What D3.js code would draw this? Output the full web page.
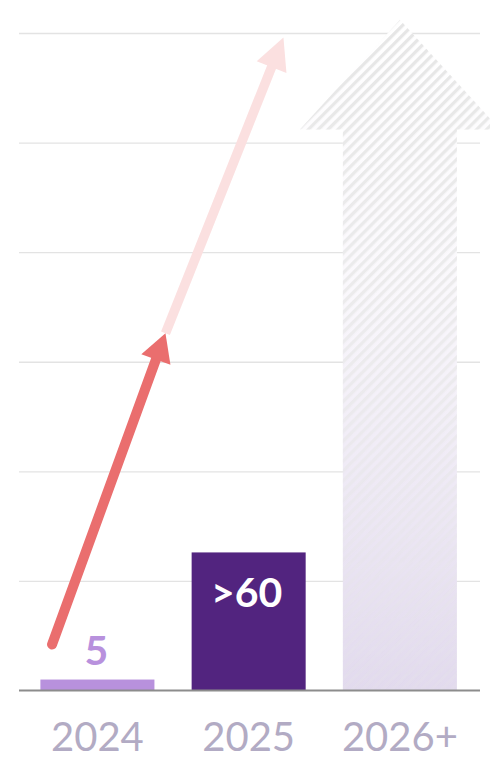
<!DOCTYPE html>
<html><head><meta charset="utf-8">
<script src="https://cdn.jsdelivr.net/npm/d3@7"></script>
<style>html,body{margin:0;padding:0;background:#fff;} svg{display:block;}</style>
</head><body><svg id="c" width="490" height="761"></svg>
<script>
// ---- data ----
const categories = ["2024", "2025", "2026+"];
const barValues = [5, 63];
const barLabels = ["5", ">60"];
const futureHeadBase = 256;   // value where the future arrow head starts
const futureTip = 306;        // value of the future arrow tip
const gridTicks = [50, 100, 150, 200, 250, 300];
const trendIdx = [-0.30, 0.45, 1.23];   // position in category units
const trendVal = [21, 163, 298];        // value units

// ---- setup ----
const W = 490, H = 761;
const svg = d3.select("#c");
const x = d3.scaleBand().domain(categories).range([40.4, 456.9]).paddingInner(0.246).paddingOuter(0);
const bw = x.bandwidth();
const y = d3.scaleLinear().domain([0, 300]).range([690.5, 33]);
const xi = d3.scaleLinear().domain([0, 1]).range([x(categories[0]) + bw / 2, x(categories[1]) + bw / 2]);
const gridX0 = 19, gridX1 = 480;

const defs = svg.append("defs");
const grad = defs.append("linearGradient").attr("id", "futGrad")
  .attr("gradientUnits", "userSpaceOnUse").attr("x1", 0).attr("x2", 0)
  .attr("y1", y(futureTip)).attr("y2", y(0));
grad.append("stop").attr("offset", 0).attr("stop-color", "#ffffff");
grad.append("stop").attr("offset", 0.4).attr("stop-color", "#faf8fc");
grad.append("stop").attr("offset", 1).attr("stop-color", "#e2daee");

const pat = defs.append("pattern").attr("id", "stripes")
  .attr("patternUnits", "userSpaceOnUse").attr("width", 7).attr("height", 7)
  .attr("patternTransform", "rotate(45)");
pat.append("rect").attr("x", 0).attr("y", 0).attr("width", 3.3).attr("height", 7).attr("fill", "#e6e6e6");

const mgrad = defs.append("linearGradient").attr("id", "maskGrad")
  .attr("gradientUnits", "userSpaceOnUse").attr("x1", 0).attr("x2", 0)
  .attr("y1", y(futureTip)).attr("y2", y(0));
mgrad.append("stop").attr("offset", 0).attr("stop-color", "#ffffff");
mgrad.append("stop").attr("offset", 0.5).attr("stop-color", "#aaaaaa");
mgrad.append("stop").attr("offset", 1).attr("stop-color", "#333333");
defs.append("mask").attr("id", "fadeMask").attr("maskUnits", "userSpaceOnUse")
  .attr("x", 0).attr("y", 0).attr("width", W).attr("height", H)
  .append("rect").attr("width", W).attr("height", H).attr("fill", "url(#maskGrad)");

// ---- gridlines (axis) ----
const grid = svg.append("g").attr("transform", `translate(${gridX0},0)`)
  .call(d3.axisRight(y).tickValues(gridTicks).tickSize(gridX1 - gridX0).tickFormat(""));
grid.select(".domain").remove();
grid.selectAll(".tick line").attr("stroke", "#e3e3e3").attr("stroke-width", 1.4);

// ---- future arrow (2026+) ----
const fl = x(categories[2]), fr = fl + bw, fc = fl + bw / 2, headHalf = 100;
const fPath = `M${fl},${y(0)} L${fl},${y(futureHeadBase)} L${fc - headHalf},${y(futureHeadBase)} L${fc},${y(futureTip)} L${fc + headHalf},${y(futureHeadBase)} L${fr},${y(futureHeadBase)} L${fr},${y(0)} Z`;
svg.append("path").attr("d", fPath).attr("fill", "url(#futGrad)");
svg.append("path").attr("d", fPath).attr("fill", "url(#stripes)").attr("mask", "url(#fadeMask)");

// ---- bars ----
const barColors = ["#b891dd", "#52247f"];
svg.selectAll("rect.bar").data(barValues).join("rect").attr("class", "bar")
  .attr("x", (d, i) => x(categories[i])).attr("width", bw)
  .attr("y", d => y(d)).attr("height", d => y(0) - y(d))
  .attr("fill", (d, i) => barColors[i]);

// ---- baseline ----
svg.append("line").attr("x1", gridX0).attr("x2", gridX1).attr("y1", y(0)).attr("y2", y(0))
  .attr("stroke", "#8c8c8c").attr("stroke-width", 2);

// ---- value labels ----
svg.append("text").attr("x", x(categories[0]) + bw / 2 - 1).attr("y", y(barValues[0]) - 15)
  .attr("text-anchor", "middle").attr("font-family", "Lato, sans-serif").attr("font-weight", 700)
  .attr("font-size", 41).attr("fill", "#b891dd").text(barLabels[0]);
svg.append("text").attr("x", x(categories[1]) + bw / 2 - 2).attr("y", y(barValues[1]) + 55)
  .attr("text-anchor", "middle").attr("font-family", "Lato, sans-serif").attr("font-weight", 700)
  .attr("font-size", 41).attr("fill", "#ffffff").text(barLabels[1]);

// ---- trend arrows ----
function arrow(p0, p1, color, width, headLen, hh, roundStart) {
  const dx = p1[0] - p0[0], dy = p1[1] - p0[1], L = Math.hypot(dx, dy);
  const ux = dx / L, uy = dy / L, nx = -uy, ny = ux;
  const bx = p1[0] - ux * headLen, by = p1[1] - uy * headLen;
  svg.append("line").attr("x1", p0[0]).attr("y1", p0[1]).attr("x2", bx + ux * 2).attr("y2", by + uy * 2)
    .attr("stroke", color).attr("stroke-width", width).attr("stroke-linecap", roundStart ? "round" : "butt");
  svg.append("path").attr("d", `M${p1[0]},${p1[1]} L${bx + nx * hh},${by + ny * hh} L${bx - nx * hh},${by - ny * hh} Z`)
    .attr("fill", color);
}
const pts = trendIdx.map((t, i) => [xi(t), y(trendVal[i])]);
arrow(pts[1], pts[2], "#fbe0e0", 9.5, 32, 16, false);
arrow(pts[0], pts[1], "#ea6e6e", 10, 28, 15.5, true);

// ---- x axis labels ----
const xa = svg.append("g").call(d3.axisBottom(x).tickSize(0));
xa.select(".domain").remove();
xa.selectAll(".tick text").attr("y", 751).attr("dy", null)
  .attr("font-family", "Lato, sans-serif").attr("font-size", 40).attr("fill", "#b2abc4");
</script></body></html>
